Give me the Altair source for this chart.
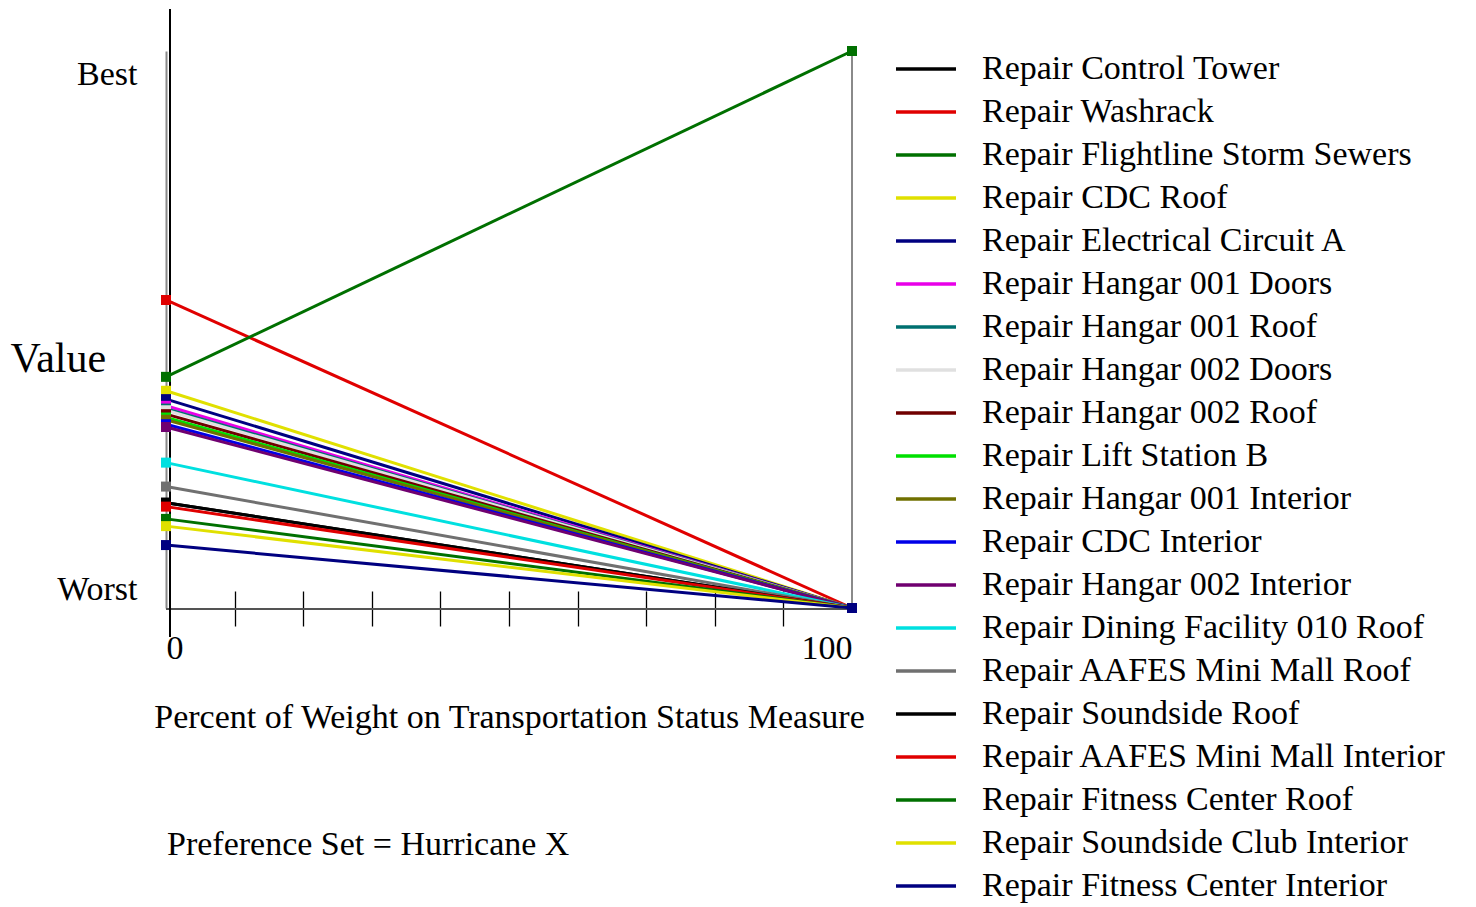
import altair as alt
import pandas as pd

FONT = "Liberation Serif"

series = [
    "Repair Control Tower",
    "Repair Washrack",
    "Repair Flightline Storm Sewers",
    "Repair CDC Roof",
    "Repair Electrical Circuit A",
    "Repair Hangar 001 Doors",
    "Repair Hangar 001 Roof",
    "Repair Hangar 002 Doors",
    "Repair Hangar 002 Roof",
    "Repair Lift Station B",
    "Repair Hangar 001 Interior",
    "Repair CDC Interior",
    "Repair Hangar 002 Interior",
    "Repair Dining Facility 010 Roof",
    "Repair AAFES Mini Mall Roof",
    "Repair Soundside Roof",
    "Repair AAFES Mini Mall Interior",
    "Repair Fitness Center Roof",
    "Repair Soundside Club Interior",
    "Repair Fitness Center Interior",
]
colors = [
    "#000000", "#E00000", "#007000", "#E0E000", "#000080",
    "#E800E8", "#007070", "#E0E0E0", "#700000", "#00E000",
    "#707000", "#0000E8", "#700070", "#00E0E0", "#707070",
    "#000000", "#E00000", "#007000", "#E0E000", "#000080",
]
weights = [0, 100]
value_at_0 = [
    0.189, 0.553, 0.415, 0.390, 0.375,
    0.363, 0.358, 0.355, 0.348, 0.342,
    0.338, 0.330, 0.325, 0.261, 0.218,
    0.189, 0.182, 0.160, 0.147, 0.113,
]
value_at_100 = [
    0.0, 0.0, 1.0, 0.0, 0.0,
    0.0, 0.0, 0.0, 0.0, 0.0,
    0.0, 0.0, 0.0, 0.0, 0.0,
    0.0, 0.0, 0.0, 0.0, 0.0,
]
x_tick_values = [0, 10, 20, 30, 40, 50, 60, 70, 80, 90, 100]
preference_set = ["Preference Set = Hurricane X"]

rows = []
for i, (s, v0, v1) in enumerate(zip(series, value_at_0, value_at_100)):
    rows.append({"Alternative": s, "Weight": weights[0], "Value": v0, "k": i})
    rows.append({"Alternative": s, "Weight": weights[1], "Value": v1, "k": i})
df = pd.DataFrame(rows)

W, H = 686, 557

x_enc = alt.X(
    "Weight:Q",
    scale=alt.Scale(domain=[0, 100], nice=False),
    axis=alt.Axis(
        values=x_tick_values,
        labelExpr="datum.value == 0 || datum.value == 100 ? datum.label : ''",
        labelFlush=True,
        offset=-17,
        domain=False,
        grid=False,
        tickSize=35,
        tickColor="#000000",
        tickWidth=1.3,
        tickOpacity=alt.condition("datum.value > 0 && datum.value < 100", alt.value(1), alt.value(0)),
        labelFont=FONT,
        labelFontSize=34,
        labelColor="#000000",
        labelPadding=5,
        title="Percent of Weight on Transportation Status Measure",
        titleFont=FONT,
        titleFontSize=34,
        titleFontWeight="normal",
        titleColor="#000000",
        titlePadding=35,
    ),
)
y_enc = alt.Y(
    "Value:Q",
    scale=alt.Scale(domain=[0, 1], nice=False, zero=False),
    axis=alt.Axis(
        values=[0, 1],
        labelExpr="datum.value > 0.5 ? 'Best' : 'Worst'",
        ticks=False,
        grid=False,
        domainColor="#8a8a8a",
        domainWidth=2,
        labelFont=FONT,
        labelFontSize=34,
        labelColor="#000000",
        labelPadding=29,
        labelBaseline="alphabetic",
        labelOffset=alt.condition("datum.value > 0.5", alt.value(33), alt.value(-9)),
        title="Value",
        titleFont=FONT,
        titleFontSize=42,
        titleFontWeight="normal",
        titleColor="#000000",
        titleAngle=0,
        titleAlign="left",
        titleBaseline="alphabetic",
        titleX=-156,
        titleY=320,
    ),
)

base = alt.Chart(df)

lines = base.mark_line(strokeWidth=3).encode(
    x=x_enc,
    y=y_enc,
    color=alt.Color(
        "Alternative:N",
        scale=alt.Scale(domain=series, range=colors),
        sort=series,
        legend=alt.Legend(
            title=None,
            orient="none",
            legendX=728,
            legendY=-2,
            symbolType="stroke",
            symbolSize=3600,
            symbolStrokeWidth=3.5,
            clipHeight=40,
            labelFont=FONT,
            labelFontSize=34,
            labelColor="#000000",
            labelLimit=600,
            labelOffset=24,
            rowPadding=3,
            padding=0,
        ),
    ),
    order="k:Q",
)

points = base.mark_square(size=100, opacity=1, strokeWidth=0).encode(
    x="Weight:Q",
    y="Value:Q",
    fill=alt.Fill("Alternative:N", scale=alt.Scale(domain=series, range=colors), legend=None),
    order="k:Q",
)

left_black = base.mark_rule(color="#000000", strokeWidth=1.5).encode(
    x=alt.value(4), y=alt.value(-42), y2=alt.value(586)
)
right_gray = base.mark_rule(color="#8a8a8a", strokeWidth=1.5).encode(
    x=alt.value(W), y=alt.value(0), y2=alt.value(H)
)
baseline = base.mark_rule(color="#555555", strokeWidth=1.5).encode(
    x=alt.value(0), x2=alt.value(W), y=alt.value(H + 1)
)

note = alt.Chart(pd.DataFrame({"t": preference_set})).mark_text(
    font=FONT, fontSize=34, color="#000000", align="left", baseline="alphabetic"
).encode(text="t:N", x=alt.value(1), y=alt.value(804))

chart = (
    alt.layer(right_gray, baseline, left_black, lines, points, note)
    .resolve_scale(fill="independent")
    .properties(
        width=W,
        height=H,
        autosize=alt.AutoSizeParams(type="none"),
        padding={"left": 158, "top": 43, "right": 610, "bottom": 299},
        background="#ffffff",
    )
    .configure_view(stroke=None)
)

chart.save("out.html", embed_options={"renderer": "svg", "actions": False})
